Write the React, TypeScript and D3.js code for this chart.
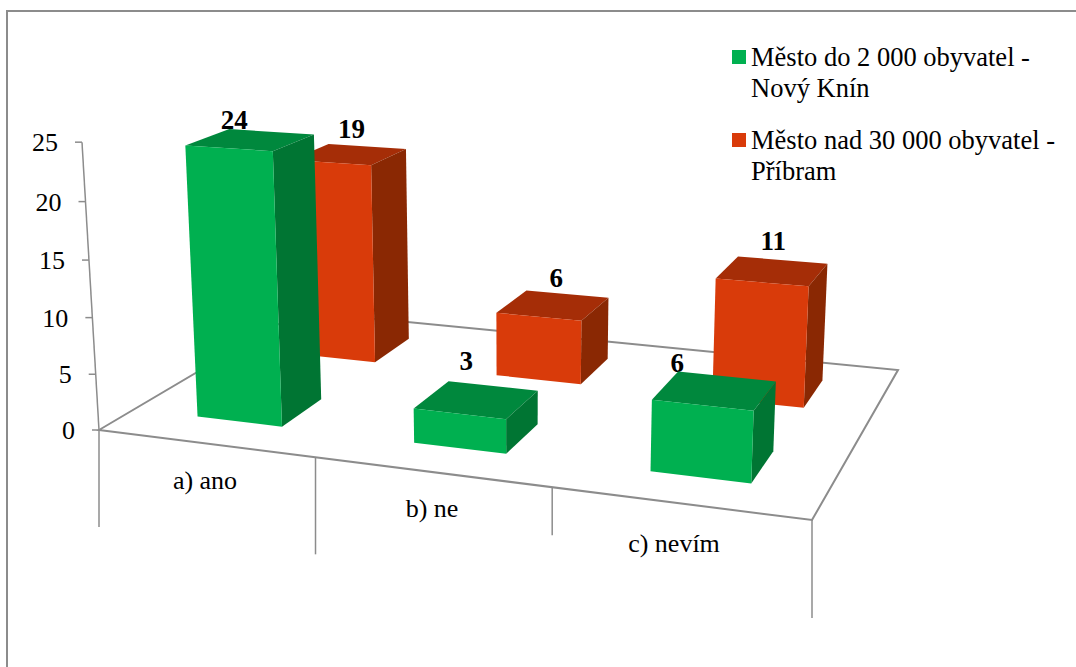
import React from "react";
import * as d3 from "d3";

// Survey answers per town size
const categories = ["a) ano", "b) ne", "c) nevím"];
const seriesNames = [
  ["Město do 2 000 obyvatel -", "Nový Knín"],
  ["Město nad 30 000 obyvatel -", "Příbram"],
];
const smallTown = [24, 3, 6];
const largeTown = [19, 6, 11];
const valueTicks = [0, 5, 10, 15, 20, 25];

// Face shades per series: front, right side, top
const shades = [
  { front: "#00B050", side: "#007533", top: "#00883D" },
  { front: "#D93B0A", side: "#8A2803", top: "#A52D07" },
];
const axisColor = "#8C8C8C";
const serif = "'Liberation Serif', 'Times New Roman', serif";

// Floor corners on screen, used to build the perspective transform
const floor = { fl: [99, 430], fr: [812, 520], br: [898, 370], bl: [300, 311.5] };
const vertical = { vx: 517, vy: 7507 };
const axisTop = [82, 142];

function buildProjection() {
  const [x0, y0] = floor.fl, [x1, y1] = floor.fr, [x2, y2] = floor.br, [x3, y3] = floor.bl;
  const dx1 = x1 - x2, dx2 = x3 - x2, sx = x0 - x1 + x2 - x3;
  const dy1 = y1 - y2, dy2 = y3 - y2, sy = y0 - y1 + y2 - y3;
  const den = dx1 * dy2 - dx2 * dy1;
  const g = (sx * dy2 - dx2 * sy) / den;
  const h = (dx1 * sy - sx * dy1) / den;
  const a = x1 - x0 + g * x1, b = x3 - x0 + h * x3;
  const d = y1 - y0 + g * y1, e = y3 - y0 + h * y3;
  // Weight of the height axis, set so the value-axis top lands on its screen spot
  const k = (axisTop[0] - x0) / (vertical.vx - axisTop[0]);
  return (u: number, v: number, t: number): [number, number] => {
    const w = g * u + h * v + 1 + k * t;
    return [
      (a * u + b * v + x0 + k * t * vertical.vx) / w,
      (d * u + e * v + y0 + k * t * vertical.vy) / w,
    ];
  };
}
const project3 = buildProjection();

const uScale = d3.scaleBand<number>().domain([0, 1, 2]).range([0, 1]).paddingInner(0).paddingOuter(0);
const valueScale = d3.scaleLinear().domain([0, 25]).range([0, 1]);
const project = (u: number, v: number, value: number) => project3(u, v, valueScale(value));

const barShare = 0.4;
const seriesShift = [0.002, 0.003];
const depthBands = [
  [0.152, 0.352],
  [0.652, 0.862],
];
const line = d3.line();
const poly = (pts: [number, number][]) => line(pts) + "Z";

// Nudges of the value labels from the centre of each bar top
const labelNudges = [
  [[-15, -20], [-9, -38], [-36, -27]],
  [[4, -25], [5, -27], [3, -30]],
];
// Drop lengths of the category separators and spots of the category names
const dropLengths = [97, 97, 48, 98];
const categoryLabels = [
  [205, 489],
  [432, 517],
  [674, 552],
];

const values = [smallTown, largeTown];

function Bar({ cat, ser }: { cat: number; ser: number }) {
  const value = values[ser][cat];
  const width = uScale.bandwidth();
  const u0 = uScale(cat)! + (width * (1 - barShare)) / 2 + seriesShift[ser];
  const u1 = u0 + width * barShare;
  const [v0, v1] = depthBands[ser];
  const c = shades[ser];
  return (
    <g>
      <path d={poly([project(u0, v0, value), project(u1, v0, value), project(u1, v1, value), project(u0, v1, value)])} fill={c.top} />
      <path d={poly([project(u1, v0, 0), project(u1, v1, 0), project(u1, v1, value), project(u1, v0, value)])} fill={c.side} />
      <path d={poly([project(u0, v0, 0), project(u1, v0, 0), project(u1, v0, value), project(u0, v0, value)])} fill={c.front} />
    </g>
  );
}

export default function App() {
  const ticksU = [0, 1, 2, 3].map((i) => i / 3);
  return (
    <svg width={1076} height={667} style={{ position: "absolute", left: 0, top: 0, background: "#fff" }} fontFamily={serif}>
      {/* Chart frame: the right and bottom edges fall outside the page */}
      <path d="M7 667V11H1076" fill="none" stroke={axisColor} strokeWidth={2} />

      {/* Floor outline */}
      <path d={poly([project(0, 0, 0), project(1, 0, 0), project(1, 1, 0), project(0, 1, 0)])} fill="none" stroke={axisColor} strokeWidth={2} />

      {/* Value axis */}
      <path d={line([project(0, 0, 0), project(0, 0, 25)])!} fill="none" stroke={axisColor} strokeWidth={1.5} />
      {valueTicks.map((t) => {
        const [x, y] = project(0, 0, t);
        return (
          <g key={t}>
            <line x1={x - 7} x2={x} y1={y} y2={y} stroke={axisColor} strokeWidth={1.5} />
            <text x={x - 24} y={y + 9} textAnchor="end" fontSize={26} fill="#000">{t}</text>
          </g>
        );
      })}

      {/* Category separators and names */}
      {ticksU.map((u, i) => {
        const [x, y] = project(u, 0, 0);
        return <line key={i} x1={x} x2={x} y1={y} y2={y + dropLengths[i]} stroke={axisColor} strokeWidth={1.5} />;
      })}
      {categories.map((name, i) => (
        <text key={name} x={categoryLabels[i][0]} y={categoryLabels[i][1]} textAnchor="middle" fontSize={26} fill="#000">{name}</text>
      ))}

      {/* Value labels sit behind the bars */}
      {[0, 1].map((ser) =>
        categories.map((_, cat) => {
          const value = values[ser][cat];
          const [v0, v1] = depthBands[ser];
          const [x, y] = project(uScale(cat)! + uScale.bandwidth() / 2, (v0 + v1) / 2, value);
          const [nx, ny] = labelNudges[ser][cat];
          return (
            <text key={`${ser}-${cat}`} x={x + nx} y={y + ny + 9} textAnchor="middle" fontSize={27} fontWeight="bold" fill="#000">{value}</text>
          );
        })
      )}

      {/* Back row first, so the front row covers it */}
      {[1, 0].map((ser) => categories.map((_, cat) => <Bar key={`${ser}-${cat}`} cat={cat} ser={ser} />))}

      {/* Legend */}
      {seriesNames.map((lines, i) => {
        const y0 = i === 0 ? 66 : 149;
        return (
          <g key={i}>
            <rect x={732} y={y0 - 16} width={14} height={14} fill={shades[i].front} />
            {lines.map((t, j) => (
              <text key={t} x={751} y={y0 + j * 31} fontSize={26.5} fill="#000">{t}</text>
            ))}
          </g>
        );
      })}
    </svg>
  );
}
